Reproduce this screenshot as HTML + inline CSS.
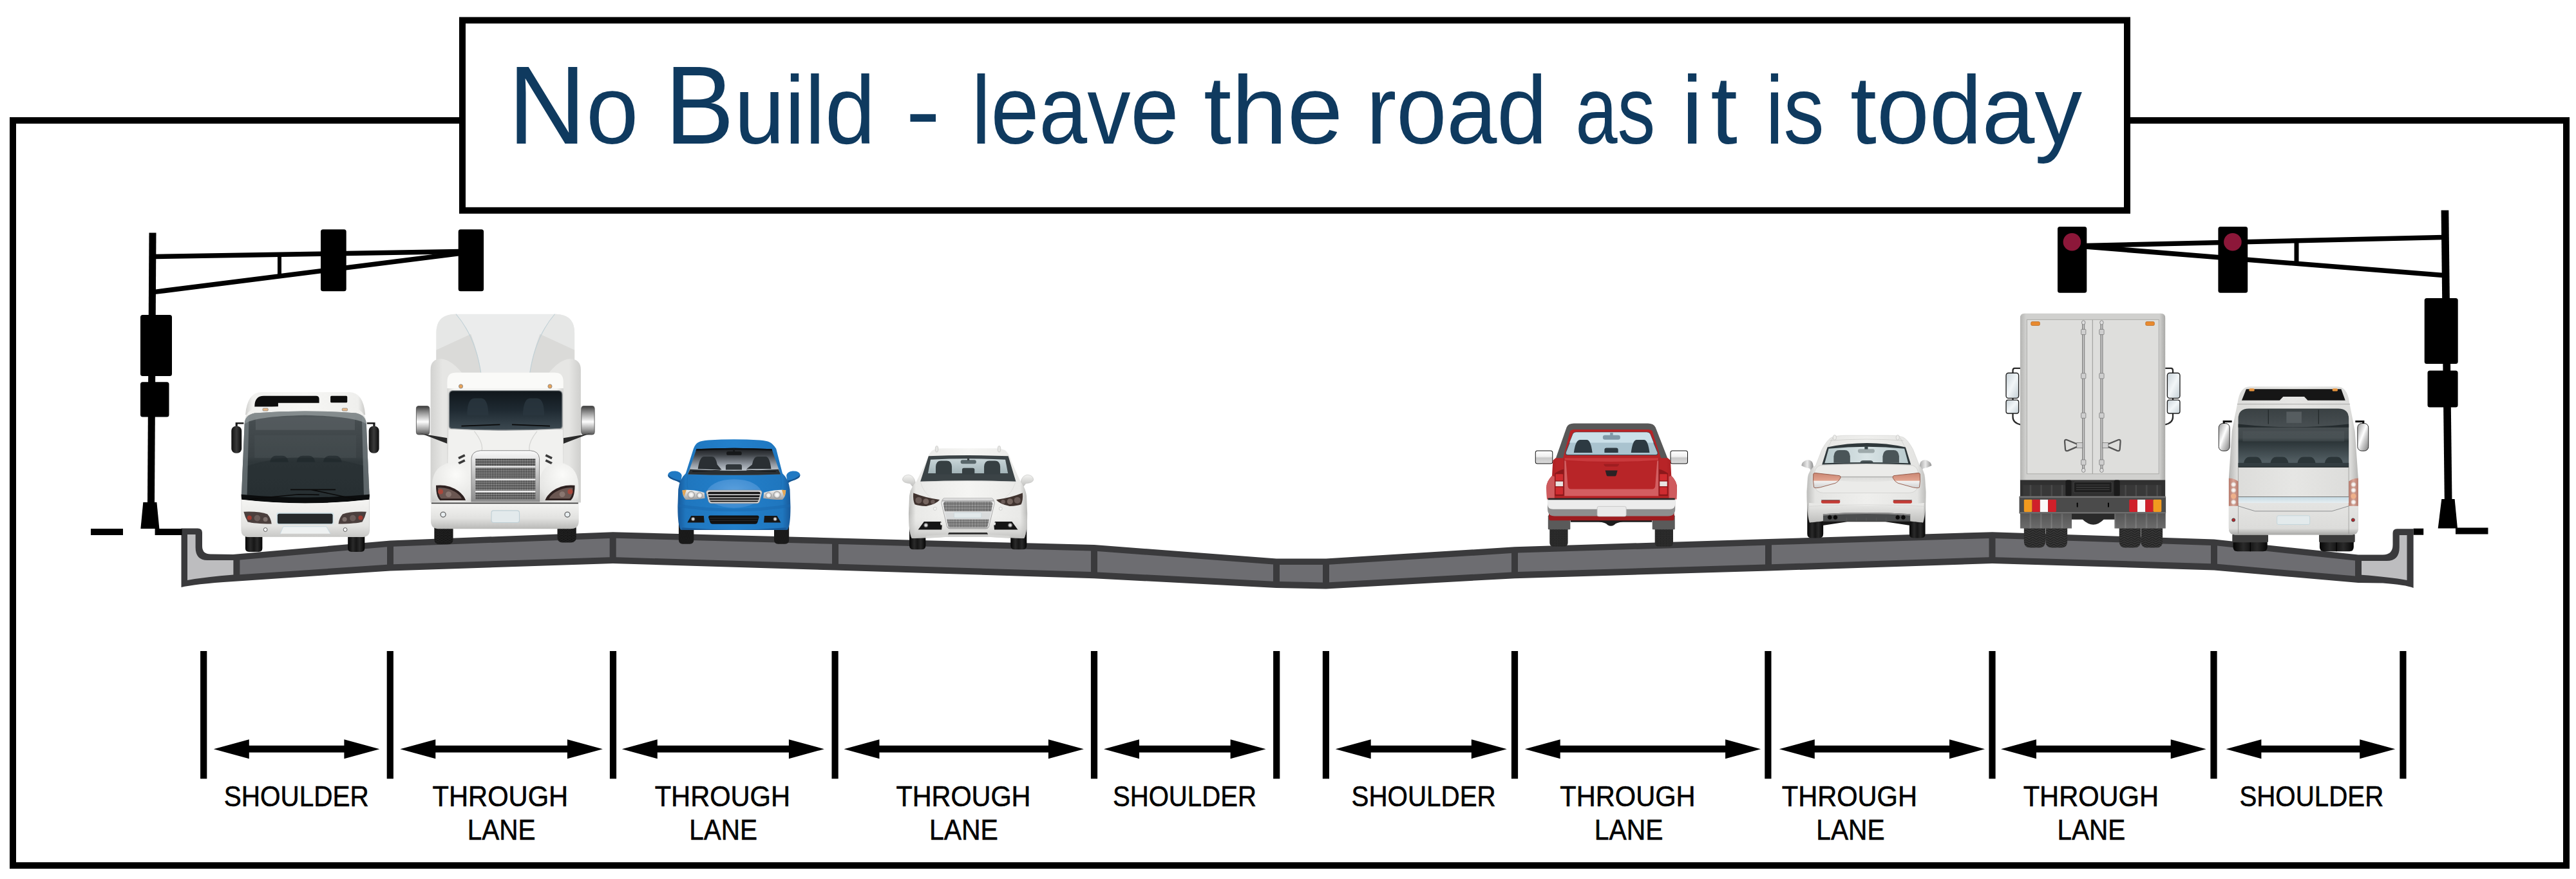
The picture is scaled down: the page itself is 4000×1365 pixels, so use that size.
<!DOCTYPE html>
<html lang="en"><head><meta charset="utf-8"><title>No Build - leave the road as it is today</title>
<style>html,body{margin:0;padding:0;background:#fff;}svg{display:block}</style></head>
<body>
<svg width="4000" height="1365" viewBox="0 0 4000 1365">
<defs>

<linearGradient id="bfBody" x1="0" x2="1" y1="0" y2="0"><stop offset="0" stop-color="#cfcfcd"/><stop offset="0.06" stop-color="#f1f1ef"/><stop offset="0.5" stop-color="#f6f6f4"/><stop offset="0.94" stop-color="#efefed"/><stop offset="1" stop-color="#c9c9c7"/></linearGradient>
<linearGradient id="bfLow" x1="0" x2="0" y1="0" y2="1"><stop offset="0" stop-color="#f4f4f2"/><stop offset="0.7" stop-color="#e4e4e2"/><stop offset="1" stop-color="#c8c8c6"/></linearGradient>
<linearGradient id="bfGlass" x1="0" x2="0" y1="0" y2="1"><stop offset="0" stop-color="#5b6265"/><stop offset="0.12" stop-color="#454c4f"/><stop offset="0.5" stop-color="#3a4144"/><stop offset="0.55" stop-color="#30383b"/><stop offset="1" stop-color="#2b3336"/></linearGradient>
<linearGradient id="bfMir" x1="0" x2="1"><stop offset="0" stop-color="#111"/><stop offset="0.5" stop-color="#3a3a3a"/><stop offset="1" stop-color="#0c0c0c"/></linearGradient>
<linearGradient id="tire" x1="0" x2="1"><stop offset="0" stop-color="#050505"/><stop offset="0.3" stop-color="#2a2a2a"/><stop offset="0.5" stop-color="#161616"/><stop offset="0.7" stop-color="#2a2a2a"/><stop offset="1" stop-color="#050505"/></linearGradient>
<radialGradient id="shadow"><stop offset="0" stop-color="#000" stop-opacity="0.35"/><stop offset="1" stop-color="#000" stop-opacity="0"/></radialGradient>


<linearGradient id="smFair" x1="0" x2="1"><stop offset="0" stop-color="#d4d4d2"/><stop offset="0.12" stop-color="#ececea"/><stop offset="0.3" stop-color="#dededc"/><stop offset="0.5" stop-color="#f0f0ee"/><stop offset="0.7" stop-color="#dededc"/><stop offset="0.88" stop-color="#ececea"/><stop offset="1" stop-color="#d0d0ce"/></linearGradient>
<linearGradient id="smSide" x1="0" x2="1"><stop offset="0" stop-color="#d2d2d0"/><stop offset="0.08" stop-color="#e6e6e4"/><stop offset="0.92" stop-color="#e6e6e4"/><stop offset="1" stop-color="#cfcfcd"/></linearGradient>
<linearGradient id="smCab" x1="0" x2="1"><stop offset="0" stop-color="#d8d8d6"/><stop offset="0.06" stop-color="#f3f3f1"/><stop offset="0.94" stop-color="#f3f3f1"/><stop offset="1" stop-color="#d4d4d2"/></linearGradient>
<linearGradient id="smGlass" x1="0" x2="0" y1="0" y2="1"><stop offset="0" stop-color="#10161b"/><stop offset="0.5" stop-color="#1f2a32"/><stop offset="1" stop-color="#3d4a52"/></linearGradient>
<linearGradient id="smBump" x1="0" x2="0" y1="0" y2="1"><stop offset="0" stop-color="#f5f5f3"/><stop offset="0.6" stop-color="#e2e2e0"/><stop offset="1" stop-color="#b9b9b7"/></linearGradient>
<linearGradient id="chromeV" x1="0" x2="0" y1="0" y2="1"><stop offset="0" stop-color="#3c3c3c"/><stop offset="0.25" stop-color="#9a9a9a"/><stop offset="0.55" stop-color="#fdfdfd"/><stop offset="0.8" stop-color="#a8a8a8"/><stop offset="1" stop-color="#555"/></linearGradient>
<linearGradient id="chromeH" x1="0" x2="0" y1="0" y2="1"><stop offset="0" stop-color="#fafafa"/><stop offset="0.5" stop-color="#bdbdbd"/><stop offset="1" stop-color="#8a8a8a"/></linearGradient>
<pattern id="mesh" width="6" height="6" patternUnits="userSpaceOnUse"><rect width="6" height="6" fill="#bdbdbd"/><rect x="0.4" y="0.9" width="5.2" height="4.2" rx="1.6" fill="#161616"/></pattern>
<pattern id="tread" width="14" height="12" patternUnits="userSpaceOnUse"><rect width="14" height="12" fill="#111"/><path d="M0 0 L7 6 L14 0 M0 6 L7 12 L14 6" stroke="#333" stroke-width="2" fill="none"/></pattern>
<radialGradient id="smFend" cx="0.6" cy="0.3" r="0.9"><stop offset="0" stop-color="#fbfbf9"/><stop offset="0.7" stop-color="#e6e6e4"/><stop offset="1" stop-color="#c4c4c2"/></radialGradient>


<linearGradient id="bcBody" x1="0" x2="1"><stop offset="0" stop-color="#18599a"/><stop offset="0.07" stop-color="#1f76be"/><stop offset="0.5" stop-color="#2380cb"/><stop offset="0.93" stop-color="#1f76be"/><stop offset="1" stop-color="#18599a"/></linearGradient>
<linearGradient id="bcGlass" x1="0" x2="0" y1="0" y2="1"><stop offset="0" stop-color="#191c1f"/><stop offset="0.25" stop-color="#3d4146"/><stop offset="0.6" stop-color="#9097a0"/><stop offset="0.85" stop-color="#c3cad0"/><stop offset="1" stop-color="#70787f"/></linearGradient>
<radialGradient id="bcHood" cx="0.5" cy="0.4" r="0.6"><stop offset="0" stop-color="#5a9fdc"/><stop offset="1" stop-color="#3b8ad0"/></radialGradient>
<linearGradient id="bcLamp" x1="0" x2="0" y1="0" y2="1"><stop offset="0" stop-color="#f4f4f4"/><stop offset="1" stop-color="#9c9c9c"/></linearGradient>
<radialGradient id="lampDot"><stop offset="0" stop-color="#fff"/><stop offset="0.6" stop-color="#e6e6e6"/><stop offset="1" stop-color="#9a9a9a"/></radialGradient>
<radialGradient id="fogDot"><stop offset="0" stop-color="#fff"/><stop offset="0.5" stop-color="#bbb"/><stop offset="1" stop-color="#222"/></radialGradient>
<pattern id="tread2" width="16" height="10" patternUnits="userSpaceOnUse"><rect width="16" height="10" fill="#101010"/><path d="M0 0 L8 5 L16 0 M0 5 L8 10 L16 5" stroke="#2c2c2c" stroke-width="2" fill="none"/></pattern>


<linearGradient id="wcBody" x1="0" x2="1"><stop offset="0" stop-color="#b9b9b7"/><stop offset="0.06" stop-color="#e9e9e7"/><stop offset="0.5" stop-color="#f5f5f3"/><stop offset="0.94" stop-color="#e9e9e7"/><stop offset="1" stop-color="#b9b9b7"/></linearGradient>
<linearGradient id="wcLow" x1="0" x2="0" y1="0" y2="1"><stop offset="0" stop-color="#f3f3f1" stop-opacity="0"/><stop offset="1" stop-color="#b5b5b3" stop-opacity="0.8"/></linearGradient>
<linearGradient id="wcGlass" x1="0" x2="0" y1="0" y2="1"><stop offset="0" stop-color="#c9d6d9"/><stop offset="1" stop-color="#a3b4b8"/></linearGradient>
<linearGradient id="wcMir" x1="0" x2="0" y1="0" y2="1"><stop offset="0" stop-color="#f4f4f2"/><stop offset="1" stop-color="#bcbcba"/></linearGradient>
<pattern id="mesh2" width="11" height="11" patternUnits="userSpaceOnUse"><rect width="11" height="11" fill="#d9d9d9"/><circle cx="5.5" cy="5.5" r="4.7" fill="#3a3a3a"/></pattern>
<linearGradient id="wcChrome" x1="0" x2="0" y1="0" y2="1"><stop offset="0" stop-color="#ffffff"/><stop offset="0.08" stop-color="#b9b9b9"/><stop offset="0.14" stop-color="#f4f4f4"/><stop offset="0.9" stop-color="#e2e2e2"/><stop offset="1" stop-color="#a9a9a9"/></linearGradient>


<linearGradient id="puRed" x1="0" x2="1"><stop offset="0" stop-color="#9c1d20"/><stop offset="0.08" stop-color="#b82427"/><stop offset="0.92" stop-color="#b82427"/><stop offset="1" stop-color="#9c1d20"/></linearGradient>
<linearGradient id="puGate" x1="0" x2="0" y1="0" y2="1"><stop offset="0" stop-color="#c22b2e"/><stop offset="0.15" stop-color="#b52326"/><stop offset="0.7" stop-color="#b52326"/><stop offset="0.78" stop-color="#d2595c"/><stop offset="1" stop-color="#d8696c"/></linearGradient>
<linearGradient id="puMir" x1="0" x2="0" y1="0" y2="1"><stop offset="0" stop-color="#ffffff"/><stop offset="0.45" stop-color="#f0f0f0"/><stop offset="0.55" stop-color="#c9c9c9"/><stop offset="1" stop-color="#dcdcdc"/></linearGradient>
<pattern id="tread3" width="18" height="14" patternUnits="userSpaceOnUse"><rect width="18" height="14" fill="#1c1c1c"/><path d="M0 0 L9 7 L18 0 M0 7 L9 14 L18 7" stroke="#444" stroke-width="2.5" fill="none"/></pattern>


<linearGradient id="wrBody" x1="0" x2="1"><stop offset="0" stop-color="#bdbdbb"/><stop offset="0.07" stop-color="#e4e4e2"/><stop offset="0.5" stop-color="#efefed"/><stop offset="0.93" stop-color="#e4e4e2"/><stop offset="1" stop-color="#bdbdbb"/></linearGradient>
<linearGradient id="wrGlass" x1="0" x2="1"><stop offset="0" stop-color="#b9cacd"/><stop offset="0.5" stop-color="#d8e3e5"/><stop offset="1" stop-color="#b9cacd"/></linearGradient>
<linearGradient id="wrTrunk" x1="0" x2="0" y1="0" y2="1"><stop offset="0" stop-color="#b9b9b7"/><stop offset="0.25" stop-color="#dcdcda"/><stop offset="1" stop-color="#e6e6e4"/></linearGradient>
<linearGradient id="wrMirL" x1="0" x2="1"><stop offset="0" stop-color="#a5a5a5"/><stop offset="0.5" stop-color="#e9e9e9"/><stop offset="1" stop-color="#8e8e8e"/></linearGradient>
<linearGradient id="wrLow" x1="0" x2="0" y1="0" y2="1"><stop offset="0" stop-color="#ebebe9"/><stop offset="1" stop-color="#bfbfbd"/></linearGradient>
<linearGradient id="wrTail" x1="0" x2="0" y1="0" y2="1"><stop offset="0" stop-color="#c98673"/><stop offset="0.5" stop-color="#e2a48f"/><stop offset="0.55" stop-color="#f2f2f2"/><stop offset="1" stop-color="#d0d0d0"/></linearGradient>


<linearGradient id="bxOuter" x1="0" x2="1"><stop offset="0" stop-color="#b4b4b2"/><stop offset="0.04" stop-color="#d0d0ce"/><stop offset="0.96" stop-color="#d0d0ce"/><stop offset="1" stop-color="#a9a9a7"/></linearGradient>
<linearGradient id="bxMir" x1="0" x2="1" y1="0" y2="1"><stop offset="0" stop-color="#c8d2d8"/><stop offset="0.5" stop-color="#f2f6f8"/><stop offset="1" stop-color="#c3ced4"/></linearGradient>
<linearGradient id="bxFlap" x1="0" x2="0" y1="0" y2="1"><stop offset="0" stop-color="#4a4a4a"/><stop offset="1" stop-color="#7a7a7a"/></linearGradient>
<pattern id="ribs" width="36" height="10" patternUnits="userSpaceOnUse"><rect width="36" height="10" fill="#383838"/><rect x="14" width="5" height="10" fill="#4a4a4a"/></pattern>
<pattern id="ribs2" width="36" height="10" patternUnits="userSpaceOnUse"><rect width="36" height="10" fill="#5f5f5f"/><rect x="14" width="4" height="10" fill="#8a8a8a"/></pattern>
<pattern id="tread4" width="24" height="16" patternUnits="userSpaceOnUse"><rect width="24" height="16" fill="#383838"/><path d="M0 0 L12 8 L24 0 M0 8 L12 16 L24 8" stroke="#1c1c1c" stroke-width="2.5" fill="none"/></pattern>


<linearGradient id="brBody" x1="0" x2="1"><stop offset="0" stop-color="#b5b5b3"/><stop offset="0.06" stop-color="#dcdcda"/><stop offset="0.5" stop-color="#e6e6e4"/><stop offset="0.94" stop-color="#dcdcda"/><stop offset="1" stop-color="#b5b5b3"/></linearGradient>
<linearGradient id="brGlass" x1="0" x2="0" y1="0" y2="1"><stop offset="0" stop-color="#3a4143"/><stop offset="0.3" stop-color="#474e51"/><stop offset="0.5" stop-color="#424a4d"/><stop offset="0.56" stop-color="#2b3437"/><stop offset="0.9" stop-color="#525e63"/><stop offset="1" stop-color="#3a464b"/></linearGradient>
<linearGradient id="brMir" x1="0" x2="1" y1="0" y2="1"><stop offset="0" stop-color="#9a9a9a"/><stop offset="0.45" stop-color="#ffffff"/><stop offset="0.6" stop-color="#d4d4d4"/><stop offset="1" stop-color="#7d7d7d"/></linearGradient>
<linearGradient id="brStripe" x1="0" x2="0" y1="0" y2="1"><stop offset="0" stop-color="#c7dbe4"/><stop offset="1" stop-color="#e6eef1"/></linearGradient>
<linearGradient id="brLow" x1="0" x2="0" y1="0" y2="1"><stop offset="0" stop-color="#e4e4e2"/><stop offset="0.8" stop-color="#dcdcda"/><stop offset="1" stop-color="#a8a8a6"/></linearGradient>
<linearGradient id="brTail" x1="0" x2="1"><stop offset="0" stop-color="#b67a6c"/><stop offset="0.5" stop-color="#d8a597"/><stop offset="1" stop-color="#b67a6c"/></linearGradient>
<radialGradient id="brDot"><stop offset="0" stop-color="#fff"/><stop offset="0.6" stop-color="#f0e6e2"/><stop offset="1" stop-color="#c9a69b"/></radialGradient>

</defs>
<rect width="4000" height="1365" fill="#fff"/>
<rect x="20" y="187" width="3965" height="1157" fill="#fff" stroke="#000" stroke-width="10"/>
<rect x="718" y="31.5" width="2585" height="295.3" fill="#fff" stroke="#000" stroke-width="10"/>
<text y="223.4" font-family="'Liberation Sans', sans-serif" font-size="150" fill="#0f3a5f" xml:space="preserve"><tspan x="788.7" textLength="202.8" lengthAdjust="spacingAndGlyphs"><tspan font-size="172">N</tspan>o</tspan> <tspan x="1032.6" textLength="326.5" lengthAdjust="spacingAndGlyphs"><tspan font-size="172">B</tspan>uild</tspan> <tspan x="1406.3" textLength="54.0" lengthAdjust="spacingAndGlyphs">-</tspan> <tspan x="1508.6" textLength="321.7" lengthAdjust="spacingAndGlyphs">leave</tspan> <tspan x="1868.9" textLength="216.4" lengthAdjust="spacingAndGlyphs">the</tspan> <tspan x="2121.4" textLength="281.1" lengthAdjust="spacingAndGlyphs">road</tspan> <tspan x="2446.2" textLength="124.1" lengthAdjust="spacingAndGlyphs">as</tspan> <tspan x="2611.0" textLength="87.0" lengthAdjust="spacing">it</tspan> <tspan x="2741.4" textLength="91.2" lengthAdjust="spacingAndGlyphs">is</tspan> <tspan x="2873.0" textLength="360.0" lengthAdjust="spacingAndGlyphs">today</tspan></text>
<path d="M 281.5 820.5 L 307 820.5 Q 314 820.5 314 827 L 314 848 Q 314 860.5 327 860.5 L 362 861 L 606 839.4 L 951.7 826.2 L 1297 835.4 L 1699 846 L 1982 867.5 L 2059 867.5 L 2352 849.3 L 2746 837 L 3093.5 826.2 L 3438 837.6 L 3662 861.5 L 3700 861.5 Q 3715.5 861.5 3715.5 846 L 3715.5 828 Q 3715.5 821.3 3722 821.3 L 3747.6 821.3 L 3747.6 913 Q 3735 908 3700 905.5 L 3662 905 L 3438 885.4 L 3093.5 875 L 2746 886.5 L 2352 898.2 L 2059 914.5 L 1982 913 L 1699 898.2 L 1297 885.6 L 951.7 875.1 L 606 886.5 L 362 902.9 Q 300 907 281.5 912 Z" fill="#3a3a3c"/>
<polygon points="372.4,869.6 601.0,849.3 601.0,876.8 372.4,892.2" fill="#6d6d71"/>
<polygon points="611.0,848.7 946.7,835.9 946.7,865.3 611.0,876.3" fill="#6d6d71"/>
<polygon points="956.7,835.8 1292.0,844.8 1292.0,875.4 956.7,865.3" fill="#6d6d71"/>
<polygon points="1302.0,845.0 1694.0,855.4 1694.0,888.0 1302.0,875.8" fill="#6d6d71"/>
<polygon points="1704.0,855.9 1977.0,876.6 1977.0,902.7 1704.0,888.5" fill="#6d6d71"/>
<polygon points="1987.0,877.0 2054.0,877.0 2054.0,904.4 1987.0,903.1" fill="#6d6d71"/>
<polygon points="2064.0,876.7 2347.0,859.1 2347.0,888.5 2064.0,904.2" fill="#6d6d71"/>
<polygon points="2357.0,858.6 2741.0,846.7 2741.0,876.6 2357.0,888.1" fill="#6d6d71"/>
<polygon points="2751.0,846.3 3088.5,835.9 3088.5,865.2 2751.0,876.3" fill="#6d6d71"/>
<polygon points="3098.5,835.9 3433.0,846.9 3433.0,875.2 3098.5,865.2" fill="#6d6d71"/>
<polygon points="3443.0,847.6 3657.0,870.5 3657.0,894.6 3443.0,875.8" fill="#6d6d71"/>
<path d="M291 830 L303.6 830 L303.6 850 Q303.6 870 322 870 L362.4 870 L362.4 892.6 Q320 896 291 901 Z" fill="#bdbdbf"/>
<path d="M3737.5 831 L3725.8 831 L3725.8 850 Q3725.8 871 3706 871 L3667 871 L3667 892.8 Q3710 896 3737.5 901 Z" fill="#bdbdbf"/>
<g fill="#000" stroke="none">
<polygon points="231.5,361.5 242.5,361.5 240,782 229,782"/>
<polygon points="222.3,780 243.4,780 247.4,821 218.4,821"/>
<rect x="141" y="821" width="50" height="10"/>
<rect x="240.6" y="821" width="42" height="10"/>
<line x1="240" y1="398.5" x2="714" y2="390.5" stroke="#000" stroke-width="7.5"/>
<line x1="240" y1="453.4" x2="714" y2="393.5" stroke="#000" stroke-width="7.5"/>
<line x1="434" y1="397" x2="434" y2="428" stroke="#000" stroke-width="6"/>
<rect x="498" y="356.3" width="39.7" height="96" rx="3.5"/>
<rect x="711.7" y="356.3" width="39.4" height="96" rx="3.5"/>
<rect x="218" y="489" width="49" height="95" rx="3.5"/>
<rect x="218" y="593.2" width="44.5" height="54.2" rx="3.5"/>
<polygon points="3790.6,326.4 3802.3,326.4 3807.5,777 3795.8,777"/>
<polygon points="3791.3,775 3811.6,775 3816,820.5 3785.7,820.5"/>
<rect x="3747.6" y="820.7" width="15.6" height="10"/>
<rect x="3813" y="819.5" width="50.5" height="10"/>
<line x1="3238" y1="381.5" x2="3794" y2="368.4" stroke="#000" stroke-width="7.5"/>
<line x1="3238" y1="383" x2="3794" y2="427.6" stroke="#000" stroke-width="7.5"/>
<line x1="3566" y1="374" x2="3566" y2="408" stroke="#000" stroke-width="7"/>
<rect x="3195" y="352" width="45.3" height="102.8" rx="3.5"/>
<rect x="3444.4" y="352" width="45.8" height="102.8" rx="3.5"/>
<rect x="3764.7" y="463" width="52" height="102" rx="3.5"/>
<rect x="3769.5" y="575.4" width="47.1" height="57.1" rx="3.5"/>
<circle cx="3217.4" cy="375.7" r="13.8" fill="#8c1739"/>
<circle cx="3466.9" cy="375.7" r="13.8" fill="#8c1739"/>
</g>
<g fill="#000">
<rect x="311.1" y="1011" width="10.2" height="198.3"/>
<rect x="600.7" y="1011" width="10.2" height="198.3"/>
<rect x="946.9" y="1011" width="10.2" height="198.3"/>
<rect x="1291.5" y="1011" width="10.2" height="198.3"/>
<rect x="1693.9" y="1011" width="10.2" height="198.3"/>
<rect x="1977.1" y="1011" width="10.2" height="198.3"/>
<rect x="2053.8" y="1011" width="10.2" height="198.3"/>
<rect x="2346.9" y="1011" width="10.2" height="198.3"/>
<rect x="2740.3" y="1011" width="10.2" height="198.3"/>
<rect x="3088.4" y="1011" width="10.2" height="198.3"/>
<rect x="3432.4" y="1011" width="10.2" height="198.3"/>
<rect x="3726.3" y="1011" width="10.2" height="198.3"/>
<path d="M331.8 1163.2 L386.8 1148.2 L386.8 1157.8 L534.4 1157.8 L534.4 1148.2 L589.4 1163.2 L534.4 1178.2 L534.4 1168.6000000000001 L386.8 1168.6000000000001 L386.8 1178.2 Z"/>
<path d="M621.3 1163.2 L676.3 1148.2 L676.3 1157.8 L880.9 1157.8 L880.9 1148.2 L935.9 1163.2 L880.9 1178.2 L880.9 1168.6000000000001 L676.3 1168.6000000000001 L676.3 1178.2 Z"/>
<path d="M965.8 1163.2 L1020.8 1148.2 L1020.8 1157.8 L1224.9 1157.8 L1224.9 1148.2 L1279.9 1163.2 L1224.9 1178.2 L1224.9 1168.6000000000001 L1020.8 1168.6000000000001 L1020.8 1178.2 Z"/>
<path d="M1310.5 1163.2 L1365.5 1148.2 L1365.5 1157.8 L1627.9 1157.8 L1627.9 1148.2 L1682.9 1163.2 L1627.9 1178.2 L1627.9 1168.6000000000001 L1365.5 1168.6000000000001 L1365.5 1178.2 Z"/>
<path d="M1714 1163.2 L1769 1148.2 L1769 1157.8 L1910.6 1157.8 L1910.6 1148.2 L1965.6 1163.2 L1910.6 1178.2 L1910.6 1168.6000000000001 L1769 1168.6000000000001 L1769 1178.2 Z"/>
<path d="M2073.7 1163.2 L2128.7 1148.2 L2128.7 1157.8 L2284.8 1157.8 L2284.8 1148.2 L2339.8 1163.2 L2284.8 1178.2 L2284.8 1168.6000000000001 L2128.7 1168.6000000000001 L2128.7 1178.2 Z"/>
<path d="M2367.7 1163.2 L2422.7 1148.2 L2422.7 1157.8 L2679.1 1157.8 L2679.1 1148.2 L2734.1 1163.2 L2679.1 1178.2 L2679.1 1168.6000000000001 L2422.7 1168.6000000000001 L2422.7 1178.2 Z"/>
<path d="M2762.8 1163.2 L2817.8 1148.2 L2817.8 1157.8 L3027 1157.8 L3027 1148.2 L3082 1163.2 L3027 1178.2 L3027 1168.6000000000001 L2817.8 1168.6000000000001 L2817.8 1178.2 Z"/>
<path d="M3107 1163.2 L3162 1148.2 L3162 1157.8 L3370.7 1157.8 L3370.7 1148.2 L3425.7 1163.2 L3370.7 1178.2 L3370.7 1168.6000000000001 L3162 1168.6000000000001 L3162 1178.2 Z"/>
<path d="M3456.4 1163.2 L3511.4 1148.2 L3511.4 1157.8 L3664.2 1157.8 L3664.2 1148.2 L3719.2 1163.2 L3664.2 1178.2 L3664.2 1168.6000000000001 L3511.4 1168.6000000000001 L3511.4 1178.2 Z"/>
</g>
<g font-family="'Liberation Sans', sans-serif" font-size="44.5" fill="#000" stroke="#000" stroke-width="0.6">
<text><tspan x="347.7" y="1251.6" textLength="225.0" lengthAdjust="spacingAndGlyphs">SHOULDER</tspan></text>
<text><tspan x="671.5" y="1251.6" textLength="210.7" lengthAdjust="spacingAndGlyphs">THROUGH</tspan> <tspan x="725.8" y="1303.8" textLength="105.8" lengthAdjust="spacingAndGlyphs">LANE</tspan></text>
<text><tspan x="1016.7" y="1251.6" textLength="210.3" lengthAdjust="spacingAndGlyphs">THROUGH</tspan> <tspan x="1070.3" y="1303.8" textLength="105.7" lengthAdjust="spacingAndGlyphs">LANE</tspan></text>
<text><tspan x="1391.4" y="1251.6" textLength="209.1" lengthAdjust="spacingAndGlyphs">THROUGH</tspan> <tspan x="1443.0" y="1303.8" textLength="106.9" lengthAdjust="spacingAndGlyphs">LANE</tspan></text>
<text><tspan x="1727.9" y="1251.6" textLength="223.0" lengthAdjust="spacingAndGlyphs">SHOULDER</tspan></text>
<text><tspan x="2098.6" y="1251.6" textLength="224.1" lengthAdjust="spacingAndGlyphs">SHOULDER</tspan></text>
<text><tspan x="2422.3" y="1251.6" textLength="210.3" lengthAdjust="spacingAndGlyphs">THROUGH</tspan> <tspan x="2475.8" y="1303.8" textLength="106.6" lengthAdjust="spacingAndGlyphs">LANE</tspan></text>
<text><tspan x="2766.8" y="1251.6" textLength="210.2" lengthAdjust="spacingAndGlyphs">THROUGH</tspan> <tspan x="2820.3" y="1303.8" textLength="106.2" lengthAdjust="spacingAndGlyphs">LANE</tspan></text>
<text><tspan x="3141.7" y="1251.6" textLength="210.3" lengthAdjust="spacingAndGlyphs">THROUGH</tspan> <tspan x="3194.5" y="1303.8" textLength="105.7" lengthAdjust="spacingAndGlyphs">LANE</tspan></text>
<text><tspan x="3477.4" y="1251.6" textLength="223.9" lengthAdjust="spacingAndGlyphs">SHOULDER</tspan></text>
</g>
<g transform="translate(330,590) scale(0.318471)">
<!-- wheels -->
<path d="M160 740 H243 V820 Q243 838 225 838 H178 Q160 838 160 820 Z" fill="url(#tire)"/>
<path d="M660 740 H742 V820 Q742 838 724 838 H678 Q660 838 660 820 Z" fill="url(#tire)"/>
<!-- mirrors -->
<path d="M112 207 H152 V215 H122 V230 H112 Z" fill="#1a1a1a"/>
<path d="M753 207 H793 V230 H783 V215 H753 Z" fill="#1a1a1a"/>
<rect x="92" y="225" width="50" height="132" rx="22" fill="url(#bfMir)"/>
<rect x="762" y="225" width="50" height="132" rx="22" fill="url(#bfMir)"/>
<!-- roof cap -->
<path d="M160 170 Q170 62 235 60 H670 Q735 62 745 170 Z" fill="url(#bfBody)"/>
<path d="M205 130 Q205 78 250 78 H505 Q520 78 520 93 V112 H320 V130 Z" fill="#0d0d0d"/>
<rect x="575" y="78" width="82" height="33" rx="5" fill="#0d0d0d"/>
<!-- body -->
<path d="M158 200 Q160 150 215 136 Q450 118 690 136 Q742 150 748 200 L766 560 V735 Q766 765 736 765 H170 Q140 765 140 735 V560 Z" fill="url(#bfBody)"/>
<!-- windshield -->
<path d="M156 215 Q158 172 205 162 Q450 142 700 162 Q746 172 750 215 L765 572 Q450 625 141 572 Z" fill="url(#bfGlass)"/>
<path d="M165 420 Q450 330 741 420 L765 572 Q450 625 141 572 Z" fill="#1f272a" opacity="0.35"/>
<rect x="210" y="181" width="484" height="63" fill="#565d60" opacity="0.8"/>
<path d="M156 215 Q158 172 205 162 Q450 142 700 162 Q746 172 750 215 Q700 178 450 172 Q200 178 156 215 Z" fill="#9aa1a3" opacity="0.7"/>
<path d="M156 215 Q158 185 178 172 L168 572 L141 572 Z" fill="#8b9498" opacity="0.55"/>
<path d="M750 215 Q748 185 728 172 L738 572 L765 572 Z" fill="#8b9498" opacity="0.55"/>
<path d="M205 270 H700 V380 H205 Z" fill="#4d5558" opacity="0.35"/>
<path d="M280 400 Q285 370 310 370 H340 Q365 370 370 400 Z M410 400 Q415 370 440 370 H470 Q495 370 500 400 Z M540 400 Q545 370 570 370 H600 Q625 370 630 400 Z" fill="#1d2528" opacity="0.6"/>
<!-- bottom black band -->
<path d="M140 558 Q450 588 766 558 L764 584 Q450 620 142 584 Z" fill="#0b0d0e"/>
<!-- wipers -->
<path d="M190 580 L420 558 L520 560" stroke="#0a0a0a" stroke-width="5" fill="none"/>
<path d="M380 535 L600 535 M480 535 L700 582" stroke="#0a0a0a" stroke-width="5" fill="none"/>
<!-- lower body -->
<path d="M142 583 Q450 619 764 583 V735 Q764 765 734 765 H172 Q142 765 142 735 Z" fill="url(#bfLow)"/>
<!-- headlights -->
<path d="M152 643 Q230 640 268 655 Q285 675 288 702 Q200 700 172 692 Q158 670 152 643 Z" fill="#4b3f3d"/>
<path d="M750 643 Q672 640 634 655 Q617 675 614 702 Q702 700 730 692 Q744 670 750 643 Z" fill="#4b3f3d"/>
<circle cx="180" cy="672" r="11" fill="#a03a30"/><circle cx="218" cy="674" r="15" fill="#6b5d5a"/><circle cx="258" cy="680" r="11" fill="#7d706c"/>
<circle cx="722" cy="672" r="11" fill="#a03a30"/><circle cx="684" cy="674" r="15" fill="#6b5d5a"/><circle cx="644" cy="680" r="11" fill="#7d706c"/>
<!-- grill -->
<rect x="312" y="647" width="279" height="58" rx="10" fill="#cfe0e6"/>
<rect x="317" y="652" width="269" height="49" rx="8" fill="#26292b"/>
<path d="M345 715 H555 L575 750 H330 Z" fill="#eef1f1"/><path d="M330 750 L345 715 H555 L575 750" fill="none" stroke="#c5d8df" stroke-width="3"/>
<circle cx="258" cy="730" r="9" fill="#fff" stroke="#555" stroke-width="3"/>
<circle cx="647" cy="730" r="9" fill="#fff" stroke="#555" stroke-width="3"/>
<!-- marker lights -->
<rect x="245" y="138" width="26" height="13" rx="4" fill="#e8b98a" stroke="#777" stroke-width="2"/>
<rect x="632" y="138" width="26" height="13" rx="4" fill="#e8b98a" stroke="#777" stroke-width="2"/>
</g>
<g transform="translate(630,470) scale(0.443498)">
<!-- wheels -->
<path d="M100 770 H166 V828 Q166 846 148 846 H118 Q100 846 100 828 Z" fill="url(#tread)"/>
<path d="M531 770 H597 V822 Q597 840 579 840 H549 Q531 840 531 822 Z" fill="url(#tread)"/>
<!-- mirrors arms -->
<rect x="37" y="362" width="46" height="100" rx="8" fill="url(#chromeV)" stroke="#555" stroke-width="2"/>
<rect x="615" y="362" width="46" height="100" rx="8" fill="url(#chromeV)" stroke="#555" stroke-width="2"/>
<!-- fairing -->
<path d="M107 255 V105 Q107 42 172 40 H526 Q591 42 591 105 V255 Z" fill="#ebecec"/>
<path d="M107 215 V105 Q107 42 172 40 H176 Q245 120 264 250 H107 Z" fill="#e6e7e6"/>
<path d="M591 215 V105 Q591 42 526 40 H522 Q453 120 434 250 H591 Z" fill="#e6e7e6"/>
<path d="M107 166 L228 110 Q255 180 264 250 H107 Z" fill="#dadad8"/>
<path d="M591 166 L470 110 Q443 180 434 250 H591 Z" fill="#dadad8"/>
<path d="M176 40 Q245 120 264 250 M522 40 Q453 120 434 250" stroke="#bfd0d6" stroke-width="2.5" fill="none"/>
<!-- sleeper sides -->
<path d="M87 235 Q87 197 125 197 Q160 200 200 250 H498 Q538 200 573 197 Q613 197 613 235 V700 H87 Z" fill="url(#smSide)"/>
<path d="M48 456 L146 494 L146 474 L62 460 Z" fill="#2a2a2a"/>
<path d="M650 456 L552 494 L552 474 L636 460 Z" fill="#2a2a2a"/>
<!-- cab -->
<path d="M145 275 Q145 245 175 245 H522 Q552 245 552 275 V700 H145 Z" fill="url(#smCab)"/>
<path d="M145 275 Q145 245 175 245 H522 Q552 245 552 275 V300 H145 Z" fill="#fafaf8"/>
<!-- windshield -->
<path d="M152 322 Q152 308 166 308 H534 Q548 308 548 322 V432 Q548 440 540 441 Q350 452 160 441 Q152 440 152 432 Z" fill="url(#smGlass)" stroke="#8a8f92" stroke-width="3"/>
<path d="M215 395 Q215 335 240 335 H265 Q288 335 290 395 Z M410 395 Q412 335 435 335 H460 Q485 335 485 395 Z" fill="#2b3740" opacity="0.8"/>
<path d="M195 432 L330 427 M372 427 L505 432" stroke="#0a0a0a" stroke-width="4"/>
<!-- hood -->
<path d="M150 445 Q350 456 550 445 L552 700 H145 Z" fill="#f1f1ef"/>
<path d="M240 450 Q280 500 262 530 M460 450 Q420 500 438 530" stroke="#d6d6d4" stroke-width="3" fill="none"/>
<!-- vents -->
<path d="M185 545 L207 534 M185 563 L207 552" stroke="#3a3a3a" stroke-width="8"/>
<path d="M512 545 L490 534 M512 563 L490 552" stroke="#3a3a3a" stroke-width="8"/>
<!-- fenders -->
<path d="M92 700 V640 Q95 565 165 560 Q225 565 232 640 V700 Z" fill="url(#smFend)"/>
<path d="M605 700 V640 Q602 565 532 560 Q472 565 465 640 V700 Z" fill="url(#smFend)"/>
<!-- headlights -->
<path d="M106 640 Q150 635 185 660 Q205 676 210 692 H120 Q106 680 106 640 Z" fill="#2e2120"/><path d="M113 648 Q148 645 178 666 Q192 676 196 686 H124 Q113 676 113 648 Z" fill="#6b5752"/>
<path d="M592 640 Q548 635 513 660 Q493 676 488 692 H578 Q592 680 592 640 Z" fill="#2e2120"/><path d="M585 648 Q550 645 520 666 Q506 676 502 686 H574 Q585 676 585 648 Z" fill="#6b5752"/>
<circle cx="122" cy="662" r="9" fill="#a8483c"/><circle cx="576" cy="662" r="9" fill="#a8483c"/>
<circle cx="150" cy="671" r="10" fill="#8a7670"/><circle cx="548" cy="671" r="10" fill="#8a7670"/>
<!-- grill -->
<path d="M230 700 V545 Q232 520 262 518 H436 Q466 520 468 545 V700 Z" fill="url(#chromeH)" stroke="#7d7d7d" stroke-width="2"/>
<rect x="244" y="546" width="210" height="142" fill="url(#mesh)"/>
<path d="M244 575 H454 M244 619 H454 M244 661 H454" stroke="#f2f2f2" stroke-width="6"/>
<!-- bumper -->
<path d="M88 705 Q88 698 96 698 H598 Q606 698 606 705 V765 Q606 792 578 792 H116 Q88 792 88 765 Z" fill="url(#smBump)"/>
<path d="M90 702 H604" stroke="#3a3a3a" stroke-width="4"/>
<rect x="300" y="728" width="98" height="42" rx="8" fill="#e3eaec" stroke="#bfd0d6" stroke-width="2.5"/>
<circle cx="131" cy="742" r="9" fill="#e8eef0" stroke="#666" stroke-width="3"/>
<circle cx="566" cy="742" r="9" fill="#e8eef0" stroke="#666" stroke-width="3"/>
<!-- markers -->
<circle cx="193" cy="293" r="7" fill="#e7a35a" stroke="#888" stroke-width="2"/>
<circle cx="505" cy="293" r="7" fill="#e7a35a" stroke="#888" stroke-width="2"/>
</g>
<g transform="translate(1000,660) scale(0.22748)">
<!-- wheels -->
<path d="M237 650 H340 V785 Q340 812 313 812 H264 Q237 812 237 785 Z" fill="url(#tread2)"/>
<path d="M888 650 H990 V785 Q990 812 963 812 H915 Q888 812 888 785 Z" fill="url(#tread2)"/>
<!-- mirrors -->
<path d="M250 400 Q235 385 200 375 Q162 362 163 340 Q168 312 215 314 Q252 318 258 345 Z" fill="#2079c3"/>
<path d="M980 400 Q995 385 1030 375 Q1067 362 1066 340 Q1061 312 1014 314 Q977 318 972 345 Z" fill="#2079c3"/>
<path d="M200 375 Q162 362 163 340 Q190 368 250 380 L250 400 Q235 385 200 375Z" fill="#17548f"/>
<path d="M1030 375 Q1067 362 1066 340 Q1040 368 980 380 L980 400 Q995 385 1030 375Z" fill="#17548f"/>
<!-- body -->
<path d="M338 162 Q350 128 374 117 Q392 106 440 103 Q615 92 790 103 Q838 106 856 117 Q880 128 902 162 L945 330 Q988 370 996 440 L1000 560 Q1000 690 978 716 H252 Q230 690 230 560 L234 440 Q242 370 285 330 Z" fill="url(#bcBody)"/>
<!-- windshield -->
<path d="M358 164 Q615 150 872 164 L932 336 Q615 348 300 336 Z" fill="url(#bcGlass)"/>
<path d="M358 164 Q615 150 872 164 L876 175 Q615 161 354 175 Z" fill="#0f1113"/>
<!-- seats -->
<path d="M368 300 Q380 215 410 215 H465 Q490 215 500 270 L530 305 Z" fill="#2a2f33"/>
<path d="M700 300 L738 270 Q748 215 775 215 H830 Q858 215 868 300 Z" fill="#2a2f33"/>
<path d="M558 305 V280 Q558 268 572 268 H655 Q668 268 668 280 V305 Z" fill="#30363a"/>
<rect x="563" y="180" width="104" height="26" rx="12" fill="#16181a"/><rect x="608" y="160" width="12" height="24" fill="#16181a"/>
<path d="M300 336 L314 302 Q615 322 918 302 L932 336 Q615 348 300 336 Z" fill="#2a2f32"/>
<path d="M330 318 L520 308 M700 308 L900 318" stroke="#0c0c0c" stroke-width="4"/>
<!-- hood highlight -->
<ellipse cx="615" cy="468" rx="188" ry="98" fill="url(#bcHood)"/>
<path d="M300 340 Q290 400 300 440 M932 340 Q942 400 932 440" stroke="#1b66ab" stroke-width="2" fill="none"/>
<!-- grill -->
<path d="M425 462 Q425 445 445 445 H785 Q805 445 805 462 L790 520 Q786 535 770 535 H460 Q444 535 440 520 Z" fill="#d9d9d9" stroke="#8a8a8a" stroke-width="3"/>
<path d="M436 466 Q436 456 448 456 H782 Q794 456 794 466 L782 515 Q779 525 768 525 H462 Q451 525 448 515 Z" fill="#1a1a1a"/>
<path d="M438 476 H792 M442 496 H788 M446 514 H784" stroke="#e4e4e4" stroke-width="6"/>
<!-- headlights -->
<path d="M262 445 Q330 438 412 462 L416 500 Q340 512 285 510 Q262 490 262 445 Z" fill="url(#bcLamp)"/>
<path d="M262 445 L290 442 L274 488 Q264 475 262 445 Z" fill="#e39a3a" opacity="0.85"/>
<circle cx="322" cy="476" r="24" fill="url(#lampDot)" stroke="#8b8b8b" stroke-width="2"/><circle cx="380" cy="480" r="20" fill="url(#lampDot)" stroke="#8b8b8b" stroke-width="2"/>
<path d="M968 445 Q900 438 818 462 L814 500 Q890 512 945 510 Q968 490 968 445 Z" fill="url(#bcLamp)"/>
<path d="M968 445 L940 442 L956 488 Q966 475 968 445 Z" fill="#e39a3a" opacity="0.85"/>
<circle cx="908" cy="476" r="24" fill="url(#lampDot)" stroke="#8b8b8b" stroke-width="2"/><circle cx="850" cy="480" r="20" fill="url(#lampDot)" stroke="#8b8b8b" stroke-width="2"/>
<!-- bumper shading -->
<path d="M232 540 Q615 600 998 540 L998 560 Q615 620 232 560 Z" fill="#1a68ad" opacity="0.5"/>
<path d="M262 700 Q615 730 968 700 L978 716 H252 Z" fill="#185a99"/>
<!-- lower grill -->
<path d="M440 630 Q440 618 452 618 H773 Q785 618 785 630 L775 664 Q772 676 760 676 H466 Q454 676 451 664 Z" fill="#111"/>
<path d="M446 636 H780 M450 652 H776" stroke="#333" stroke-width="4"/>
<path d="M322 620 H408 L412 666 H296 Z" fill="#161616"/><circle cx="335" cy="642" r="15" fill="url(#fogDot)"/>
<path d="M908 620 H822 L818 666 H934 Z" fill="#161616"/><circle cx="895" cy="642" r="15" fill="url(#fogDot)"/>
</g>
<g transform="translate(1370,670) scale(0.227465)">
<!-- wheels -->
<path d="M185 600 H296 V778 Q296 806 268 806 H213 Q185 806 185 778 Z" fill="url(#tire)"/>
<path d="M876 600 H986 V778 Q986 806 958 806 H904 Q876 806 876 778 Z" fill="url(#tire)"/>
<!-- mirrors -->
<path d="M225 345 Q215 300 180 296 Q140 298 138 330 Q142 352 190 355 L210 380 L225 365 Z" fill="url(#wcMir)" stroke="#b0b0ae" stroke-width="2"/>
<path d="M945 345 Q955 300 990 296 Q1030 298 1032 330 Q1028 352 980 355 L960 380 L945 365 Z" fill="url(#wcMir)" stroke="#b0b0ae" stroke-width="2"/>
<!-- roof rails -->
<!-- body -->
<path d="M300 205 Q322 140 345 128 Q365 116 410 115 H772 Q817 116 837 128 Q860 140 882 205 L944 343 Q978 385 985 440 L990 560 Q990 690 968 730 L720 720 H450 L202 730 Q180 690 180 560 L185 440 Q192 385 232 343 Z" fill="url(#wcBody)"/>
<path d="M180 560 Q180 690 202 730 L450 720 H720 L968 730 Q990 690 990 560 Z" fill="url(#wcLow)"/>
<ellipse cx="372" cy="120" rx="10" ry="21" fill="#e6e6e4" stroke="#a9a9a7" stroke-width="2"/>
<ellipse cx="798" cy="120" rx="10" ry="21" fill="#e6e6e4" stroke="#a9a9a7" stroke-width="2"/>
<!-- windshield -->
<path d="M316 168 Q585 158 860 168 L912 342 Q585 330 260 342 Z" fill="#3b4346"/>
<path d="M330 192 Q585 180 840 192 L858 286 H312 Z" fill="url(#wcGlass)"/>
<path d="M365 292 V240 Q368 200 400 200 H440 Q472 200 475 240 V292 Z" fill="#363f42"/>
<path d="M695 292 V240 Q698 200 730 200 H770 Q802 200 805 240 V292 Z" fill="#363f42"/>
<path d="M545 295 V262 Q545 250 557 250 H618 Q630 250 630 262 V295 Z" fill="#363f42"/>
<rect x="535" y="195" width="106" height="26" rx="12" fill="#58666a"/><rect x="580" y="172" width="14" height="26" fill="#3b4346"/>
<!-- hood lines -->
<path d="M258 344 Q585 330 912 344" stroke="#d0d0ce" stroke-width="3" fill="none"/>
<path d="M262 350 Q285 420 330 450 M908 350 Q885 420 840 450" stroke="#d2d2d0" stroke-width="2.5" fill="none"/>
<path d="M190 400 Q200 470 183 520" stroke="#d0d0ce" stroke-width="2" fill="none"/>
<!-- headlights -->
<path d="M212 420 Q300 455 392 466 Q372 495 300 510 Q245 508 222 498 Q208 470 212 420 Z" fill="#40332f"/>
<path d="M958 420 Q870 455 778 466 Q798 495 870 510 Q925 508 948 498 Q962 470 958 420 Z" fill="#40332f"/>
<circle cx="248" cy="470" r="22" fill="#6b5c58"/><circle cx="298" cy="478" r="20" fill="#75655f"/><circle cx="345" cy="480" r="14" fill="#6b5c58"/>
<circle cx="922" cy="470" r="22" fill="#6b5c58"/><circle cx="872" cy="478" r="20" fill="#75655f"/><circle cx="825" cy="480" r="14" fill="#6b5c58"/>
<!-- grill -->
<path d="M422 456 H748 Q762 460 766 490 L728 650 Q722 664 708 664 H462 Q448 664 442 650 L404 490 Q408 460 422 456 Z" fill="url(#wcChrome)" stroke="#8a8a8a" stroke-width="3"/>
<path d="M430 478 H740 Q752 480 754 495 L744 545 H426 L416 495 Q418 480 430 478 Z" fill="url(#mesh2)"/>
<path d="M440 600 H730 L720 645 Q717 654 708 654 H462 Q453 654 450 645 Z" fill="url(#mesh2)"/>
<path d="M426 548 H744 L732 598 H438 Z" fill="#d9dbdc"/>
<rect x="490" y="555" width="186" height="34" rx="6" fill="#e2e9eb" stroke="#bfd2d8" stroke-width="2.5"/>
<!-- fogs -->
<path d="M285 615 H400 L404 622 H395 L398 640 H408 L405 670 H245 Z" fill="#151515"/>
<path d="M885 615 H770 L766 622 H775 L772 640 H762 L765 670 H925 Z" fill="#151515"/>
<circle cx="298" cy="640" r="17" fill="url(#fogDot)"/><circle cx="873" cy="640" r="17" fill="url(#fogDot)"/>
<circle cx="360" cy="527" r="11" fill="#f4f4f2" stroke="#aaa" stroke-width="2"/><circle cx="808" cy="527" r="11" fill="#f4f4f2" stroke="#aaa" stroke-width="2"/>
<!-- lower lip -->
<path d="M455 690 H715 L722 702 H448 Z" fill="#2a2a2a"/>
<path d="M296 730 L450 720 L448 702 L300 712 Z M874 730 L720 720 L722 702 L870 712 Z" fill="#d5d5d3"/>
</g>
<g transform="translate(2360,640) scale(0.25025)">
<!-- wheels -->
<path d="M185 700 H298 V810 Q298 834 274 834 H209 Q185 834 185 810 Z" fill="url(#tread3)"/>
<path d="M838 700 H951 V810 Q951 834 927 834 H862 Q838 834 838 810 Z" fill="url(#tread3)"/>
<!-- differential -->
<path d="M315 668 H820 V682 H640 Q600 682 585 700 Q565 712 545 700 Q530 682 490 682 H315 Z" fill="#1d1d1d"/>
<!-- mudflaps -->
<rect x="175" y="640" width="138" height="88" rx="4" fill="#5a5a5a"/>
<rect x="822" y="640" width="140" height="88" rx="4" fill="#5a5a5a"/>
<!-- mirrors -->
<rect x="97" y="240" width="106" height="80" rx="12" fill="url(#puMir)" stroke="#111" stroke-width="4"/>
<rect x="935" y="240" width="106" height="80" rx="12" fill="url(#puMir)" stroke="#111" stroke-width="4"/>
<!-- cab outer gray -->
<path d="M290 95 Q300 70 335 70 H795 Q830 70 842 95 L918 290 H222 Z" fill="#585858"/>
<path d="M312 118 Q318 108 335 108 H800 Q815 108 822 118 L875 285 H268 Z" fill="#b72427"/>
<!-- window -->
<path d="M330 135 Q335 125 350 125 H788 Q802 125 808 135 L855 250 Q858 266 842 266 H298 Q282 266 285 250 Z" fill="#a9c3cf" stroke="#3a4a52" stroke-width="4"/>
<path d="M330 135 Q335 125 350 125 H788 Q802 125 808 135 L830 190 H308 Z" fill="#cbe0e9"/>
<path d="M335 252 Q345 172 375 172 H415 Q440 172 450 252 Z" fill="#2d3a42"/>
<path d="M690 252 Q700 172 725 172 H770 Q795 172 805 252 Z" fill="#2d3a42"/>
<path d="M525 252 V235 Q525 222 538 222 H598 Q610 222 610 235 V252 Z" fill="#2d3a42"/>
<rect x="515" y="143" width="108" height="28" rx="13" fill="#8099a8"/><rect x="560" y="128" width="18" height="18" fill="#8099a8"/>
<!-- body -->
<path d="M222 285 H918 L935 300 L940 395 Q975 430 975 470 L972 540 H168 L165 470 Q165 430 200 395 L205 300 Z" fill="url(#puRed)"/>
<path d="M200 395 Q165 430 165 470 L168 540 H215 V400 Z" fill="#cf5b5e"/>
<path d="M940 395 Q975 430 975 470 L972 540 H925 V400 Z" fill="#cf5b5e"/>
<!-- tailgate -->
<path d="M275 285 H862 V520 H275 Z" fill="#b52326"/>
<path d="M275 285 H862 V298 Q568 318 275 298 Z" fill="#c93a3d"/>
<path d="M286 303 Q568 323 852 303 L840 462 Q836 478 822 478 H316 Q302 478 298 462 Z" fill="#b82528"/>
<path d="M275 300 L286 303 L298 462 Q302 478 316 478 H822 Q836 478 840 462 L852 303 L862 300 V520 H275 Z" fill="#d8696c" opacity="0.85"/>
<path d="M275 285 V520 M862 285 V520" stroke="#8e1a1d" stroke-width="3"/>
<path d="M520 322 H616 Q612 338 600 338 H536 Q524 338 520 322 Z" fill="#9e1d20"/>
<path d="M530 362 H606 L598 392 Q596 398 588 398 H548 Q540 398 538 392 Z" fill="#2b2224"/>
<!-- tail lights -->
<path d="M217 380 Q245 360 272 355 V520 H217 Z" fill="#8c181b"/>
<path d="M919 380 Q891 360 864 355 V520 H919 Z" fill="#8c181b"/>
<rect x="222" y="385" width="46" height="40" rx="4" fill="#cf2c30"/><rect x="222" y="430" width="46" height="30" fill="#e9e4e2"/><rect x="222" y="466" width="46" height="44" rx="4" fill="#cf2c30"/>
<rect x="868" y="385" width="46" height="40" rx="4" fill="#cf2c30"/><rect x="868" y="430" width="46" height="30" fill="#e9e4e2"/><rect x="868" y="466" width="46" height="44" rx="4" fill="#cf2c30"/>
<!-- lower valance -->
<path d="M180 620 H958 V660 Q958 672 946 672 H192 Q180 672 180 660 Z" fill="#9d1c1f"/>
<!-- bumper -->
<path d="M175 533 H962 V545 H175 Z" fill="#2a2a2a"/>
<path d="M172 545 H964 V600 Q964 645 920 645 H216 Q172 645 172 600 Z" fill="#8e8e8e"/>
<path d="M172 545 H964 V570 Q964 602 930 602 H206 Q172 602 172 570 Z" fill="#ececec"/>
<rect x="480" y="585" width="180" height="62" rx="10" fill="#e9e9e9" stroke="#bdbdbd" stroke-width="3"/>
</g>
<g transform="translate(2770,660) scale(0.216076)">
<!-- wheels -->
<path d="M168 560 H283 V782 Q283 812 253 812 H198 Q168 812 168 782 Z" fill="url(#tire)"/>
<path d="M902 560 H1016 V782 Q1016 812 986 812 H932 Q902 812 902 782 Z" fill="url(#tire)"/>
<!-- underside -->
<path d="M278 680 H908 V722 L730 695 H455 L278 722 Z" fill="#161616"/>
<!-- mirrors -->
<path d="M212 300 Q210 250 170 250 Q128 262 126 292 Q150 308 185 312 L195 330 Z" fill="url(#wrMirL)"/>
<path d="M974 300 Q976 250 1016 250 Q1058 262 1062 292 Q1036 308 1001 312 L991 330 Z" fill="url(#wrMirL)"/>
<!-- body -->
<path d="M274 175 Q315 100 345 88 Q375 76 440 75 H762 Q827 76 857 88 Q887 100 928 175 L973 290 Q1008 325 1013 380 L1020 480 Q1020 640 1000 700 L905 690 H280 L185 700 Q165 640 165 480 L172 380 Q177 325 229 290 Z" fill="url(#wrBody)" stroke="#c4c4c2" stroke-width="2"/>
<!-- roof rails -->
<ellipse cx="365" cy="90" rx="12" ry="18" fill="#ececea" stroke="#a5a5a3" stroke-width="2"/>
<ellipse cx="818" cy="90" rx="12" ry="18" fill="#ececea" stroke="#a5a5a3" stroke-width="2"/>
<path d="M330 112 Q592 92 858 112 M352 92 L300 195 M836 92 L888 195" stroke="#bdbdbb" stroke-width="2.5" fill="none"/>
<!-- window -->
<path d="M313 160 Q601 100 874 160 L913 285 Q592 271 274 285 Z" fill="#2f383b"/>
<path d="M322 170 Q601 142 866 170 L894 274 Q592 262 293 274 Z" fill="url(#wrGlass)"/>
<path d="M358 272 V225 Q362 180 398 180 H438 Q472 180 476 225 V272 Z" fill="#4a5558"/>
<path d="M710 272 V225 Q714 180 750 180 H790 Q824 180 828 225 V272 Z" fill="#4a5558"/>
<path d="M548 270 Q552 255 570 255 H620 Q638 255 642 270 Z" fill="#4a5558"/>
<rect x="532" y="172" width="120" height="29" rx="13" fill="#9da9ab"/><rect x="580" y="152" width="24" height="22" fill="#39474a"/>
<!-- trunk -->
<path d="M262 290 Q592 276 925 290 Q958 300 965 340 L962 440 Q955 485 900 488 H285 Q230 485 222 440 L220 340 Q228 300 262 290 Z" fill="#ebebe9" stroke="#b8b8b6" stroke-width="2"/>
<path d="M405 372 H782 L790 400 Q592 420 396 400 Z" fill="url(#wrTrunk)" opacity="0.9"/>
<path d="M405 372 H782" stroke="#8f8f8d" stroke-width="3"/>
<!-- tail lights -->
<path d="M212 352 Q214 344 225 345 L400 364 Q412 368 406 382 Q392 408 370 418 L262 448 Q225 456 216 448 Q208 400 212 352 Z" fill="url(#wrTail)" stroke="#8a4e3c" stroke-width="4"/>
<path d="M978 352 Q976 344 965 345 L790 364 Q778 368 784 382 Q798 408 820 418 L928 448 Q965 456 974 448 Q982 400 978 352 Z" fill="url(#wrTail)" stroke="#8a4e3c" stroke-width="4"/>
<!-- bumper -->
<path d="M180 560 Q592 600 1008 560 L1000 700 L905 690 H280 L185 700 Z" fill="url(#wrLow)"/>
<path d="M175 585 Q592 560 1012 585" stroke="#cfcfcd" stroke-width="2.5" fill="none"/>
<rect x="268" y="540" width="136" height="23" rx="10" fill="#c23b35"/><rect x="785" y="540" width="136" height="23" rx="10" fill="#c23b35"/>
<path d="M268 540 H404 M785 540 H921" stroke="#3a2a2a" stroke-width="3"/>
<!-- diffuser -->
<path d="M282 640 Q592 618 908 640 V690 H282 Z" fill="#4b4d4e"/>
<path d="M282 640 Q592 618 908 640 V650 Q592 628 282 650 Z" fill="#8e8e8e"/>
<path d="M450 665 V690 M520 665 V690 M592 665 V690 M665 665 V690 M735 665 V690" stroke="#666" stroke-width="2"/>
<circle cx="330" cy="664" r="17" fill="#0a0a0a" stroke="#555" stroke-width="3"/><circle cx="370" cy="664" r="17" fill="#0a0a0a" stroke="#555" stroke-width="3"/>
<circle cx="818" cy="664" r="17" fill="#0a0a0a" stroke="#555" stroke-width="3"/><circle cx="858" cy="664" r="17" fill="#0a0a0a" stroke="#555" stroke-width="3"/>
</g>
<g transform="translate(3080,470) scale(0.455166)">
<!-- wheels -->
<g fill="url(#tread4)">
<path d="M138 750 H211 V815 Q211 836 190 836 H159 Q138 836 138 815 Z"/><path d="M212 750 H286 V815 Q286 836 265 836 H233 Q212 836 212 815 Z"/>
<path d="M463 750 H536 V815 Q536 836 515 836 H484 Q463 836 463 815 Z"/><path d="M537 750 H611 V815 Q611 836 590 836 H558 Q537 836 537 815 Z"/>
</g>
<!-- mirror arms -->
<path d="M126 224 H106 Q100 224 100 232 V390 Q100 410 126 416" stroke="#2a2a2a" stroke-width="5" fill="none"/>
<path d="M620 224 H640 Q646 224 646 232 V390 Q646 410 620 416" stroke="#2a2a2a" stroke-width="5" fill="none"/>
<rect x="77" y="240" width="43" height="86" rx="8" fill="url(#bxMir)" stroke="#1c1c1c" stroke-width="3"/>
<rect x="77" y="332" width="43" height="46" rx="7" fill="url(#bxMir)" stroke="#1c1c1c" stroke-width="3"/>
<rect x="627" y="240" width="43" height="86" rx="8" fill="url(#bxMir)" stroke="#1c1c1c" stroke-width="3"/>
<rect x="627" y="332" width="43" height="46" rx="7" fill="url(#bxMir)" stroke="#1c1c1c" stroke-width="3"/>
<!-- axle -->
<path d="M298 718 H448 V740 H410 Q375 775 338 740 H298 Z" fill="#2a2a2a"/>
<!-- box -->
<path d="M125 52 Q125 37 140 37 H605 Q620 37 620 52 V606 H125 Z" fill="url(#bxOuter)"/>
<rect x="148" y="58" width="450" height="526" fill="#dededc" stroke="#a9a9a7" stroke-width="2"/>
<path d="M372 58 V584" stroke="#9f9f9d" stroke-width="2.5"/>
<rect x="337.5" y="70" width="7" height="500" fill="#bdbdbd" stroke="#5a5a5a" stroke-width="1.5"/><ellipse cx="341" cy="68" rx="6" ry="7" fill="#ddd" stroke="#666" stroke-width="1.5"/><ellipse cx="341" cy="572" rx="6" ry="7" fill="#ddd" stroke="#666" stroke-width="1.5"/><rect x="333" y="91" width="16" height="18" rx="2" fill="#cfcfcf" stroke="#6d6d6d" stroke-width="1.5"/><rect x="333" y="241" width="16" height="18" rx="2" fill="#cfcfcf" stroke="#6d6d6d" stroke-width="1.5"/><rect x="333" y="376" width="16" height="18" rx="2" fill="#cfcfcf" stroke="#6d6d6d" stroke-width="1.5"/><rect x="333" y="536" width="16" height="18" rx="2" fill="#cfcfcf" stroke="#6d6d6d" stroke-width="1.5"/><rect x="399.5" y="70" width="7" height="500" fill="#bdbdbd" stroke="#5a5a5a" stroke-width="1.5"/><ellipse cx="403" cy="68" rx="6" ry="7" fill="#ddd" stroke="#666" stroke-width="1.5"/><ellipse cx="403" cy="572" rx="6" ry="7" fill="#ddd" stroke="#666" stroke-width="1.5"/><rect x="395" y="91" width="16" height="18" rx="2" fill="#cfcfcf" stroke="#6d6d6d" stroke-width="1.5"/><rect x="395" y="241" width="16" height="18" rx="2" fill="#cfcfcf" stroke="#6d6d6d" stroke-width="1.5"/><rect x="395" y="376" width="16" height="18" rx="2" fill="#cfcfcf" stroke="#6d6d6d" stroke-width="1.5"/><rect x="395" y="536" width="16" height="18" rx="2" fill="#cfcfcf" stroke="#6d6d6d" stroke-width="1.5"/>
<path d="M330 487 L284 468 Q276 466 277 475 L279 500 Q280 508 288 505 Z" fill="none" stroke="#555" stroke-width="5"/>
<path d="M414 487 L460 468 Q468 466 467 475 L465 500 Q464 508 456 505 Z" fill="none" stroke="#555" stroke-width="5"/>
<rect x="318" y="478" width="20" height="18" fill="#cfcfcf" stroke="#666" stroke-width="1.5"/><rect x="406" y="478" width="20" height="18" fill="#cfcfcf" stroke="#666" stroke-width="1.5"/>
<rect x="162" y="65" width="30" height="13" rx="4" fill="#e98a2f" stroke="#b0661f" stroke-width="1.5"/>
<rect x="553" y="65" width="30" height="13" rx="4" fill="#e98a2f" stroke="#b0661f" stroke-width="1.5"/>
<!-- chassis -->
<rect x="125" y="605" width="495" height="58" fill="#303030"/>
<rect x="135" y="622" width="145" height="40" fill="url(#ribs)"/><rect x="465" y="622" width="142" height="40" fill="url(#ribs)"/>
<rect x="280" y="605" width="20" height="55" rx="6" fill="#1a1a1a"/><rect x="445" y="605" width="20" height="55" rx="6" fill="#1a1a1a"/>
<rect x="308" y="612" width="130" height="36" rx="4" fill="#1e1e1e" stroke="#444" stroke-width="2"/>
<path d="M316 622 H430 M316 630 H430 M316 638 H430" stroke="#3c3c3c" stroke-width="3"/>
<!-- mudflaps -->
<rect x="125" y="718" width="176" height="52" fill="url(#ribs2)"/><rect x="447" y="718" width="174" height="52" fill="url(#ribs2)"/>
<rect x="125" y="718" width="176" height="52" fill="url(#bxFlap)" opacity="0.45"/><rect x="447" y="718" width="174" height="52" fill="url(#bxFlap)" opacity="0.45"/>
<!-- light bar -->
<rect x="122" y="660" width="500" height="60" rx="3" fill="#4b4b4b"/><path d="M122 663 H622 M122 717 H622" stroke="#7a7a7a" stroke-width="4"/>
<rect x="138" y="672" width="28" height="42" rx="3" fill="#f19a1f"/><rect x="166" y="672" width="27" height="42" rx="3" fill="#d0202a"/><rect x="193" y="672" width="27" height="42" fill="#fafafa"/><rect x="220" y="672" width="28" height="42" rx="3" fill="#d0202a"/>
<rect x="497" y="672" width="28" height="42" rx="3" fill="#d0202a"/><rect x="525" y="672" width="27" height="42" fill="#fafafa"/><rect x="552" y="672" width="27" height="42" rx="3" fill="#d0202a"/><rect x="579" y="672" width="28" height="42" rx="3" fill="#f19a1f"/>
<rect x="318" y="682" width="4" height="16" rx="2" fill="#000"/><rect x="424" y="682" width="4" height="16" rx="2" fill="#000"/>
</g>
<g transform="translate(3430,590) scale(0.3184)">
<!-- wheels -->
<path d="M118 770 H285 V815 Q285 836 264 836 H139 Q118 836 118 815 Z" fill="url(#tire)"/>
<path d="M540 770 H706 V815 Q706 836 685 836 H561 Q540 836 540 815 Z" fill="url(#tire)"/>
<path d="M202 790 V836 M622 790 V836" stroke="#000" stroke-width="4"/>
<rect x="114" y="752" width="175" height="40" rx="5" fill="#3c3c3c"/><rect x="537" y="752" width="175" height="40" rx="5" fill="#3c3c3c"/>
<!-- mirror brackets -->
<path d="M68 198 H112 V207 H78 V214 H68 Z M714 198 H758 V214 H748 V207 H714 Z" fill="#111"/>
<rect x="48" y="212" width="53" height="134" rx="20" fill="url(#brMir)" stroke="#222" stroke-width="3"/>
<rect x="725" y="212" width="53" height="134" rx="20" fill="url(#brMir)" stroke="#222" stroke-width="3"/>
<!-- body -->
<path d="M140 110 Q150 32 200 32 H625 Q675 32 685 110 L712 250 L728 480 V725 Q728 755 698 755 H127 Q97 755 97 725 V480 L112 250 Z" fill="url(#brBody)"/>
<path d="M97 600 H728 V725 Q728 755 698 755 H127 Q97 755 97 725 Z" fill="url(#brLow)"/>
<path d="M182 45 H645 L665 100 H482 L465 82 H362 L345 100 H160 Z" fill="#161616"/>
<rect x="196" y="42" width="26" height="13" rx="5" fill="#e7943e"/><rect x="602" y="42" width="26" height="13" rx="5" fill="#e7943e"/>
<path d="M138 118 H688" stroke="#9d9d9b" stroke-width="2.5"/>
<!-- window -->
<path d="M143 190 Q143 140 195 140 H630 Q682 140 682 190 V425 H143 Z" fill="url(#brGlass)"/>
<path d="M143 215 Q412 245 682 215 V232 H143 Z" fill="#1c2326" opacity="0.8"/>
<path d="M290 145 V215 M535 145 V215" stroke="#23292b" stroke-width="4"/>
<rect x="378" y="155" width="74" height="55" fill="#565d60"/>
<path d="M165 250 H660 V300 H165 Z" fill="#565e61" opacity="0.35"/>
<path d="M170 405 Q175 375 200 375 H230 Q252 375 258 405 Z M300 405 Q305 375 330 375 H360 Q382 375 388 405 Z M432 405 Q437 375 462 375 H492 Q514 375 520 405 Z M565 405 Q570 375 595 375 H625 Q647 375 653 405 Z" fill="#2b3538"/>
<path d="M143 405 H682 V425 H143 Z" fill="#333d41"/>
<path d="M143 425 H682" stroke="#1a1f21" stroke-width="3"/>
<!-- panel lines -->
<path d="M143 425 V750 M682 425 V750" stroke="#8a8a88" stroke-width="2"/>
<rect x="143" y="572" width="539" height="28" fill="url(#brStripe)"/>
<path d="M143 570 H682" stroke="#55595b" stroke-width="2.5"/>
<path d="M143 615 L225 640 H600 L682 615" stroke="#77797a" stroke-width="2.5" fill="none"/>
<rect x="332" y="662" width="160" height="43" rx="7" fill="#e3eaec" stroke="#c3d5db" stroke-width="3"/>
<!-- tail lights -->
<path d="M97 480 Q120 478 143 495 V615 H97 Z" fill="url(#brTail)"/>
<path d="M728 480 Q705 478 682 495 V615 H728 Z" fill="url(#brTail)"/>
<circle cx="120" cy="510" r="13" fill="url(#brDot)"/><circle cx="120" cy="538" r="13" fill="url(#brDot)"/><circle cx="120" cy="567" r="13" fill="#eeb08a"/><circle cx="120" cy="596" r="13" fill="url(#brDot)"/>
<circle cx="705" cy="510" r="13" fill="url(#brDot)"/><circle cx="705" cy="538" r="13" fill="url(#brDot)"/><circle cx="705" cy="567" r="13" fill="#eeb08a"/><circle cx="705" cy="596" r="13" fill="url(#brDot)"/>
<circle cx="120" cy="683" r="8" fill="#b8262c" stroke="#444" stroke-width="3"/><circle cx="703" cy="683" r="8" fill="#b8262c" stroke="#444" stroke-width="3"/>
</g>
</svg>
</body></html>
